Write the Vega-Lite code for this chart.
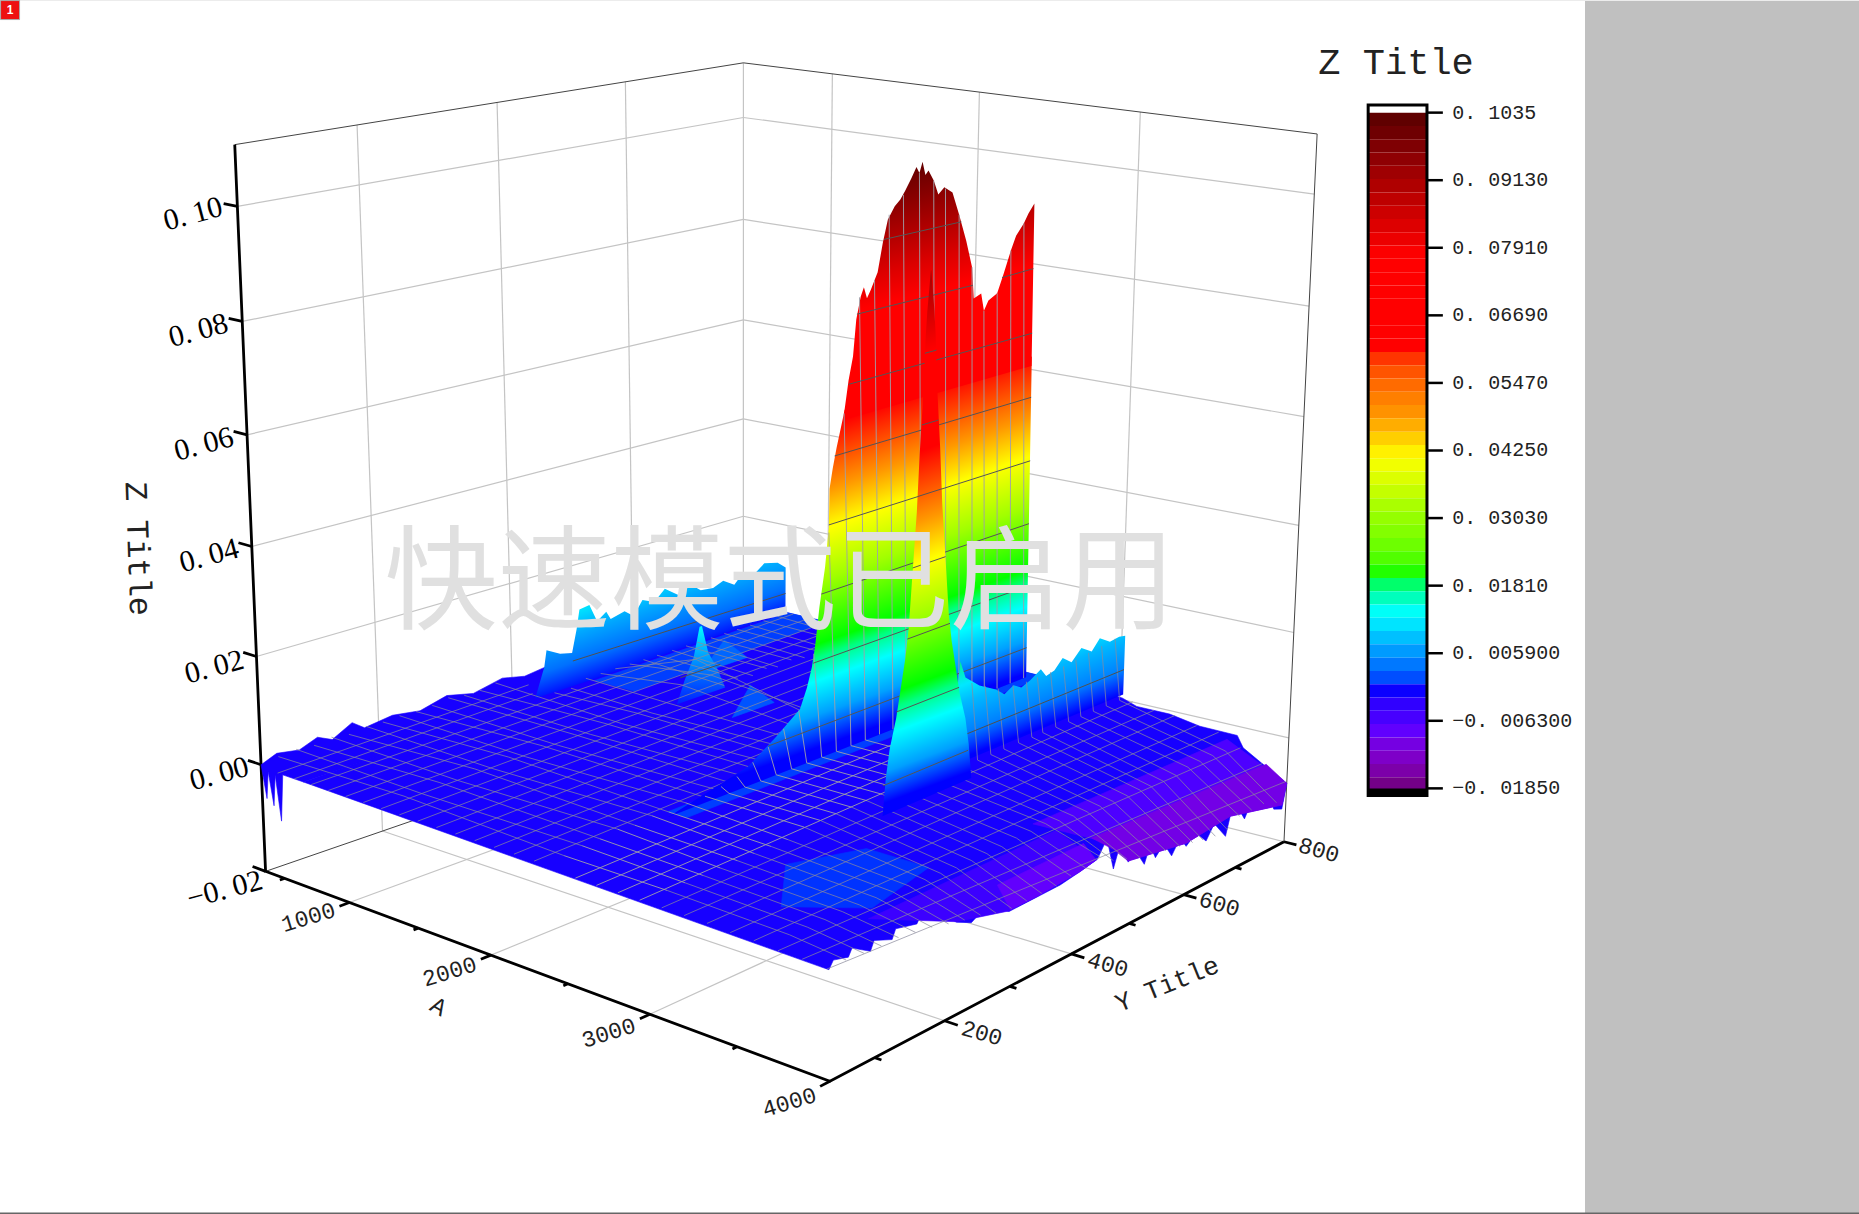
{"$schema":"https://vega.github.io/schema/vega-lite/v6.json","width":1859,"height":1214,"padding":0,"autosize":"none","background":"white","config":{"view":{"stroke":null},"legend":{"disable":true}},
"data":{"values":[
{"p":"P"},{"p":"B","t":"1"},{"p":"K"},{"p":"U","t":"Z Title"},{"p":"V","t":"快速模式已启用"},
{"p":"ga0","X":350,"Y":39,"Z":0},{"p":"ga0","X":350,"Y":800,"Z":0},{"p":"ga2","X":350,"Y":39,"Z":0.02},{"p":"ga2","X":350,"Y":800,"Z":0.02},{"p":"ga4","X":350,"Y":39,"Z":0.04},{"p":"ga4","X":350,"Y":800,"Z":0.04},{"p":"ga6","X":350,"Y":39,"Z":0.06},{"p":"ga6","X":350,"Y":800,"Z":0.06},{"p":"ga8","X":350,"Y":39,"Z":0.08},{"p":"ga8","X":350,"Y":800,"Z":0.08},{"p":"ga10","X":350,"Y":39,"Z":0.1},{"p":"ga10","X":350,"Y":800,"Z":0.1},
{"p":"gb0","X":350,"Y":800,"Z":0},{"p":"gb0","X":4000,"Y":800,"Z":0},{"p":"gb2","X":350,"Y":800,"Z":0.02},{"p":"gb2","X":4000,"Y":800,"Z":0.02},{"p":"gb4","X":350,"Y":800,"Z":0.04},{"p":"gb4","X":4000,"Y":800,"Z":0.04},{"p":"gb6","X":350,"Y":800,"Z":0.06},{"p":"gb6","X":4000,"Y":800,"Z":0.06},{"p":"gb8","X":350,"Y":800,"Z":0.08},{"p":"gb8","X":4000,"Y":800,"Z":0.08},{"p":"gb10","X":350,"Y":800,"Z":0.1},{"p":"gb10","X":4000,"Y":800,"Z":0.1},
{"p":"gc2","X":350,"Y":200,"Z":-0.02},{"p":"gc2","X":350,"Y":200,"Z":0.1106},{"p":"gc4","X":350,"Y":400,"Z":-0.02},{"p":"gc4","X":350,"Y":400,"Z":0.1106},{"p":"gc6","X":350,"Y":600,"Z":-0.02},{"p":"gc6","X":350,"Y":600,"Z":0.1106},
{"p":"gd1","X":1000,"Y":800,"Z":-0.02},{"p":"gd1","X":1000,"Y":800,"Z":0.1106},{"p":"gd2","X":2000,"Y":800,"Z":-0.02},{"p":"gd2","X":2000,"Y":800,"Z":0.1106},{"p":"gd3","X":3000,"Y":800,"Z":-0.02},{"p":"gd3","X":3000,"Y":800,"Z":0.1106},
{"p":"ge1","X":1000,"Y":39,"Z":-0.02},{"p":"ge1","X":1000,"Y":800,"Z":-0.02},{"p":"ge2","X":2000,"Y":39,"Z":-0.02},{"p":"ge2","X":2000,"Y":800,"Z":-0.02},{"p":"ge3","X":3000,"Y":39,"Z":-0.02},{"p":"ge3","X":3000,"Y":800,"Z":-0.02},
{"p":"gf2","X":350,"Y":200,"Z":-0.02},{"p":"gf2","X":4000,"Y":200,"Z":-0.02},{"p":"gf4","X":350,"Y":400,"Z":-0.02},{"p":"gf4","X":4000,"Y":400,"Z":-0.02},{"p":"gf6","X":350,"Y":600,"Z":-0.02},{"p":"gf6","X":4000,"Y":600,"Z":-0.02},
{"p":"gg","X":350,"Y":800,"Z":-0.02},{"p":"gg","X":350,"Y":800,"Z":0.1106},{"p":"gh","X":350,"Y":800,"Z":-0.02},{"p":"gh","X":4000,"Y":800,"Z":-0.02},
{"p":"ka","X":350,"Y":39,"Z":0.1106},{"p":"ka","X":350,"Y":800,"Z":0.1106},{"p":"ka","X":4000,"Y":800,"Z":0.1106},{"p":"ka","X":4000,"Y":800,"Z":-0.02},{"p":"kb","X":350,"Y":39,"Z":-0.02},{"p":"kb","X":350,"Y":800,"Z":-0.02},
{"p":"ta","X":350,"Y":39,"Z":0.1106},{"p":"ta","X":350,"Y":39,"Z":-0.02},{"p":"ta","X":4000,"Y":39,"Z":-0.02},{"p":"ta","X":4000,"Y":800,"Z":-0.02},
{"p":"tz0","X":350,"Y":39,"Z":-0.02},{"p":"tz0","X":245,"Y":39,"Z":-0.02},{"p":"tz1","X":350,"Y":39,"Z":0},{"p":"tz1","X":245,"Y":39,"Z":0},{"p":"tz2","X":350,"Y":39,"Z":0.02},{"p":"tz2","X":245,"Y":39,"Z":0.02},{"p":"tz3","X":350,"Y":39,"Z":0.04},{"p":"tz3","X":245,"Y":39,"Z":0.04},{"p":"tz4","X":350,"Y":39,"Z":0.06},{"p":"tz4","X":245,"Y":39,"Z":0.06},{"p":"tz5","X":350,"Y":39,"Z":0.08},{"p":"tz5","X":245,"Y":39,"Z":0.08},{"p":"tz6","X":350,"Y":39,"Z":0.1},{"p":"tz6","X":245,"Y":39,"Z":0.1},
{"p":"tx1","X":1000,"Y":39,"Z":-0.02},{"p":"tx1","X":1000,"Y":26,"Z":-0.02},{"p":"tx2","X":2000,"Y":39,"Z":-0.02},{"p":"tx2","X":2000,"Y":26,"Z":-0.02},{"p":"tx3","X":3000,"Y":39,"Z":-0.02},{"p":"tx3","X":3000,"Y":26,"Z":-0.02},{"p":"tx4","X":4000,"Y":39,"Z":-0.02},{"p":"tx4","X":4000,"Y":26,"Z":-0.02},{"p":"tx5","X":500,"Y":39,"Z":-0.02},{"p":"tx5","X":500,"Y":33,"Z":-0.02},{"p":"tx6","X":1500,"Y":39,"Z":-0.02},{"p":"tx6","X":1500,"Y":33,"Z":-0.02},{"p":"tx7","X":2500,"Y":39,"Z":-0.02},{"p":"tx7","X":2500,"Y":33,"Z":-0.02},{"p":"tx8","X":3500,"Y":39,"Z":-0.02},{"p":"tx8","X":3500,"Y":33,"Z":-0.02},
{"p":"ty1","X":4000,"Y":200,"Z":-0.02},{"p":"ty1","X":4070,"Y":200,"Z":-0.02},{"p":"ty2","X":4000,"Y":400,"Z":-0.02},{"p":"ty2","X":4070,"Y":400,"Z":-0.02},{"p":"ty3","X":4000,"Y":600,"Z":-0.02},{"p":"ty3","X":4070,"Y":600,"Z":-0.02},{"p":"ty4","X":4000,"Y":800,"Z":-0.02},{"p":"ty4","X":4070,"Y":800,"Z":-0.02},{"p":"ty5","X":4000,"Y":100,"Z":-0.02},{"p":"ty5","X":4035,"Y":100,"Z":-0.02},{"p":"ty6","X":4000,"Y":300,"Z":-0.02},{"p":"ty6","X":4035,"Y":300,"Z":-0.02},{"p":"ty7","X":4000,"Y":500,"Z":-0.02},{"p":"ty7","X":4035,"Y":500,"Z":-0.02},{"p":"ty8","X":4000,"Y":700,"Z":-0.02},{"p":"ty8","X":4035,"Y":700,"Z":-0.02},
{"p":"z","X":-30,"Y":39,"Z":0.1,"t":"0. 10"},{"p":"z","X":-30,"Y":39,"Z":0.0795,"t":"0. 08"},{"p":"z","X":-30,"Y":39,"Z":0.0592,"t":"0. 06"},{"p":"z","X":-30,"Y":39,"Z":0.039,"t":"0. 04"},{"p":"z","X":-30,"Y":39,"Z":0.0185,"t":"0. 02"},{"p":"z","X":-30,"Y":39,"Z":-0.0015,"t":"0. 00"},{"p":"z","X":-30,"Y":39,"Z":-0.0235,"t":"−0. 02"},
{"p":"x","X":1000,"Y":-14,"Z":-0.02,"t":"1000"},{"p":"x","X":2000,"Y":-14,"Z":-0.02,"t":"2000"},{"p":"x","X":3000,"Y":-14,"Z":-0.02,"t":"3000"},{"p":"x","X":4000,"Y":-14,"Z":-0.02,"t":"4000"},
{"p":"y","X":4195,"Y":200,"Z":-0.02,"t":"200"},{"p":"y","X":4195,"Y":400,"Z":-0.02,"t":"400"},{"p":"y","X":4195,"Y":600,"Z":-0.02,"t":"600"},{"p":"y","X":4195,"Y":800,"Z":-0.02,"t":"800"},
{"p":"uz","X":-600,"Y":39,"Z":0.0335,"t":"Z Title"},{"p":"ux","X":2248,"Y":-75,"Z":-0.02,"t":"A"},{"p":"uy","X":4511,"Y":397,"Z":-0.02,"t":"Y Title"},
{"p":"a","X":350,"Y":39,"Z":0,"c":-0.0002},{"p":"a","X":387,"Y":39,"Z":-0.006,"c":-0.0002},{"p":"a","X":405,"Y":39,"Z":-0.0008,"c":-0.0002},{"p":"a","X":441,"Y":39,"Z":-0.0069,"c":-0.0002},{"p":"a","X":460,"Y":39,"Z":-0.001,"c":-0.0002},{"p":"a","X":496,"Y":39,"Z":-0.0093,"c":-0.0002},{"p":"a","X":520,"Y":39,"Z":-0.0005,"c":-0.0002},{"p":"a","X":680,"Y":39,"Z":-0.0005,"c":-0.0002},{"p":"a","X":680,"Y":800,"Z":0.001,"c":-0.0002},{"p":"a","X":350,"Y":800,"Z":0.001,"c":-0.0002},{"p":"a","X":350,"Y":451,"Z":0.0015,"c":-0.0002},{"p":"a","X":350,"Y":420,"Z":0.001,"c":-0.0002},{"p":"a","X":350,"Y":385,"Z":0.002,"c":-0.0002},{"p":"a","X":350,"Y":340,"Z":0.0008,"c":-0.0002},{"p":"a","X":350,"Y":300,"Z":0.002,"c":-0.0002},{"p":"a","X":350,"Y":260,"Z":0.0007,"c":-0.0002},{"p":"a","X":350,"Y":220,"Z":0.0015,"c":-0.0002},{"p":"a","X":350,"Y":180,"Z":0.0008,"c":-0.0002},{"p":"a","X":350,"Y":163,"Z":0.0025,"c":-0.0002},{"p":"a","X":350,"Y":135,"Z":0.0005,"c":-0.0002},{"p":"a","X":350,"Y":115,"Z":0.0018,"c":-0.0002},{"p":"a","X":350,"Y":90,"Z":0.0005,"c":-0.0002},{"p":"a","X":350,"Y":60,"Z":0.0012,"c":-0.0002},
{"p":"h","X":680,"Y":370,"Z":0.001},{"p":"h","X":680,"Y":385,"Z":0.0065},{"p":"h","X":680,"Y":389,"Z":0.0096},{"p":"h","X":680,"Y":410,"Z":0.0081},{"p":"h","X":680,"Y":429,"Z":0.0075},{"p":"h","X":680,"Y":437,"Z":0.0119},{"p":"h","X":680,"Y":442,"Z":0.0155},{"p":"h","X":680,"Y":458,"Z":0.0158},{"p":"h","X":680,"Y":470,"Z":0.0122},{"p":"h","X":680,"Y":485,"Z":0.0135},{"p":"h","X":680,"Y":492,"Z":0.0118},{"p":"h","X":680,"Y":515,"Z":0.0125},{"p":"h","X":680,"Y":530,"Z":0.011},{"p":"h","X":680,"Y":545,"Z":0.0136},{"p":"h","X":680,"Y":565,"Z":0.0125},{"p":"h","X":680,"Y":583,"Z":0.0145},{"p":"h","X":680,"Y":605,"Z":0.0125},{"p":"h","X":680,"Y":625,"Z":0.014},{"p":"h","X":680,"Y":645,"Z":0.012},{"p":"h","X":680,"Y":667,"Z":0.0117},{"p":"h","X":680,"Y":685,"Z":0.0125},{"p":"h","X":680,"Y":705,"Z":0.011},{"p":"h","X":680,"Y":720,"Z":0.0128},{"p":"h","X":680,"Y":739,"Z":0.0117},{"p":"h","X":680,"Y":760,"Z":0.0135},{"p":"h","X":680,"Y":785,"Z":0.0128},{"p":"h","X":680,"Y":800,"Z":0.0113},{"p":"h","X":680,"Y":800,"Z":0.001},
{"p":"f","X":680,"Y":800,"Z":0.002,"c":-0.0002},{"p":"f","X":680,"Y":39,"Z":-0.0005,"c":-0.0002},{"p":"f","X":3950,"Y":39,"Z":-0.0017,"c":-0.0002},{"p":"f","X":4000,"Y":39,"Z":-0.0017,"c":-0.0002},{"p":"f","X":4000,"Y":45,"Z":-0.0005,"c":-0.0002},{"p":"f","X":4000,"Y":65,"Z":-0.0012,"c":-0.0002},{"p":"f","X":4000,"Y":70,"Z":0,"c":-0.0002},{"p":"f","X":4000,"Y":95,"Z":-0.002,"c":-0.0002},{"p":"f","X":4000,"Y":100,"Z":-0.0005,"c":-0.0002},{"p":"f","X":4000,"Y":125,"Z":-0.0018,"c":-0.0002},{"p":"f","X":4000,"Y":130,"Z":-0.0003,"c":-0.0002},{"p":"f","X":4000,"Y":160,"Z":-0.0012,"c":-0.0002},{"p":"f","X":4000,"Y":165,"Z":-0.0002,"c":-0.0002},{"p":"f","X":4000,"Y":185,"Z":-0.0018,"c":-0.0002},{"p":"f","X":4000,"Y":190,"Z":-0.001,"c":-0.0002},{"p":"f","X":4000,"Y":218,"Z":-0.0042,"c":-0.0002},{"p":"f","X":4000,"Y":240,"Z":-0.0055,"c":-0.0002},{"p":"f","X":4000,"Y":262,"Z":-0.004,"c":-0.0002},{"p":"f","X":4000,"Y":298,"Z":-0.0068,"c":-0.0002},{"p":"f","X":4000,"Y":343,"Z":-0.0067,"c":-0.0002},{"p":"f","X":4000,"Y":380,"Z":-0.0066,"c":-0.0002},{"p":"f","X":4000,"Y":412,"Z":-0.006,"c":-0.0002},{"p":"f","X":4000,"Y":442,"Z":-0.0053,"c":-0.0002},{"p":"f","X":4000,"Y":458,"Z":-0.0024,"c":-0.0002},{"p":"f","X":4000,"Y":470,"Z":-0.0085,"c":-0.0002},{"p":"f","X":4000,"Y":480,"Z":-0.005,"c":-0.0002},{"p":"f","X":4000,"Y":496,"Z":-0.0086,"c":-0.0002},{"p":"f","X":4000,"Y":510,"Z":-0.0075,"c":-0.0002},{"p":"f","X":4000,"Y":525,"Z":-0.0105,"c":-0.0002},{"p":"f","X":4000,"Y":535,"Z":-0.0075,"c":-0.0002},{"p":"f","X":4000,"Y":545,"Z":-0.0103,"c":-0.0002},{"p":"f","X":4000,"Y":560,"Z":-0.0085,"c":-0.0002},{"p":"f","X":4000,"Y":575,"Z":-0.0115,"c":-0.0002},{"p":"f","X":4000,"Y":590,"Z":-0.009,"c":-0.0002},{"p":"f","X":4000,"Y":602,"Z":-0.0111,"c":-0.0002},{"p":"f","X":4000,"Y":620,"Z":-0.0095,"c":-0.0002},{"p":"f","X":4000,"Y":640,"Z":-0.012,"c":-0.0002},{"p":"f","X":4000,"Y":655,"Z":-0.0095,"c":-0.0002},{"p":"f","X":4000,"Y":678,"Z":-0.013,"c":-0.0002},{"p":"f","X":4000,"Y":686,"Z":-0.0096,"c":-0.0002},{"p":"f","X":4000,"Y":700,"Z":-0.0085,"c":-0.0002},{"p":"f","X":4000,"Y":715,"Z":-0.0115,"c":-0.0002},{"p":"f","X":4000,"Y":730,"Z":-0.0085,"c":-0.0002},{"p":"f","X":4000,"Y":747,"Z":-0.0113,"c":-0.0002},{"p":"f","X":4000,"Y":762,"Z":-0.009,"c":-0.0002},{"p":"f","X":4000,"Y":775,"Z":-0.0125,"c":-0.0002},{"p":"f","X":4000,"Y":792,"Z":-0.0133,"c":-0.0002},{"p":"f","X":4000,"Y":800,"Z":-0.0087,"c":-0.0002},{"p":"f","X":3880,"Y":800,"Z":-0.0065,"c":-0.0002},{"p":"f","X":3745,"Y":800,"Z":-0.0039,"c":-0.0002},{"p":"f","X":3708,"Y":800,"Z":-0.0018,"c":-0.0002},{"p":"f","X":3489,"Y":800,"Z":-0.0017,"c":-0.0002},{"p":"f","X":3307,"Y":800,"Z":-0.0007,"c":-0.0002},{"p":"f","X":3106,"Y":800,"Z":-0.0007,"c":-0.0002},{"p":"f","X":3015,"Y":800,"Z":0.0003,"c":-0.0002},{"p":"f","X":2400,"Y":800,"Z":0.001,"c":-0.0002},
{"p":"o1","X":3650,"Y":440,"Z":-0.002,"c":-0.005},{"p":"o1","X":3650,"Y":800,"Z":-0.003,"c":-0.005},{"p":"o1","X":4000,"Y":800,"Z":-0.0087,"c":-0.005},{"p":"o1","X":4000,"Y":792,"Z":-0.0125,"c":-0.005},{"p":"o1","X":4000,"Y":686,"Z":-0.0096,"c":-0.005},{"p":"o1","X":4000,"Y":602,"Z":-0.0105,"c":-0.005},{"p":"o1","X":4000,"Y":496,"Z":-0.0084,"c":-0.005},{"p":"o1","X":4000,"Y":470,"Z":-0.004,"c":-0.005},
{"p":"o2","X":3880,"Y":470,"Z":-0.004,"c":-0.009},{"p":"o2","X":3880,"Y":800,"Z":-0.006,"c":-0.009},{"p":"o2","X":4000,"Y":800,"Z":-0.0087,"c":-0.009},{"p":"o2","X":4000,"Y":792,"Z":-0.0125,"c":-0.009},{"p":"o2","X":4000,"Y":686,"Z":-0.0096,"c":-0.009},{"p":"o2","X":4000,"Y":602,"Z":-0.0105,"c":-0.009},{"p":"o2","X":4000,"Y":496,"Z":-0.0084,"c":-0.009},{"p":"o2","X":4000,"Y":470,"Z":-0.005,"c":-0.009},
{"p":"o3","X":3780,"Y":150,"Z":-0.002,"c":-0.0035},{"p":"o3","X":3780,"Y":440,"Z":-0.002,"c":-0.0035},{"p":"o3","X":4000,"Y":440,"Z":-0.0053,"c":-0.0035},{"p":"o3","X":4000,"Y":412,"Z":-0.0059,"c":-0.0035},{"p":"o3","X":4000,"Y":343,"Z":-0.0066,"c":-0.0035},{"p":"o3","X":4000,"Y":298,"Z":-0.0067,"c":-0.0035},{"p":"o3","X":4000,"Y":218,"Z":-0.0041,"c":-0.0035},
{"p":"o4","X":3930,"Y":300,"Z":-0.003,"c":-0.007},{"p":"o4","X":3930,"Y":440,"Z":-0.003,"c":-0.007},{"p":"o4","X":4000,"Y":440,"Z":-0.0053,"c":-0.007},{"p":"o4","X":4000,"Y":412,"Z":-0.006,"c":-0.007},{"p":"o4","X":4000,"Y":343,"Z":-0.0066,"c":-0.007},{"p":"o4","X":4000,"Y":300,"Z":-0.0066,"c":-0.007},
{"p":"o5","X":3200,"Y":180,"Z":0,"c":0.0016},{"p":"o5","X":3500,"Y":100,"Z":0,"c":0.0016},{"p":"o5","X":3800,"Y":150,"Z":0,"c":0.0016},{"p":"o5","X":3700,"Y":260,"Z":0,"c":0.0016},{"p":"o5","X":3350,"Y":260,"Z":0,"c":0.0016},
{"p":"o6","X":2400,"Y":200,"Z":0.001,"c":0.002},{"p":"o6","X":2400,"Y":800,"Z":0.001,"c":0.002},{"p":"o6","X":2520,"Y":800,"Z":0.001,"c":0.002},{"p":"o6","X":2520,"Y":200,"Z":0.001,"c":0.002},
{"p":"o7","X":700,"Y":460,"Z":0.001,"c":0.002},{"p":"o7","X":700,"Y":800,"Z":0.002,"c":0.002},{"p":"o7","X":1000,"Y":800,"Z":0.002,"c":0.002},{"p":"o7","X":1000,"Y":460,"Z":0.001,"c":0.002},
{"p":"o8","X":1050,"Y":560,"Z":0.001,"c":0.004},{"p":"o8","X":1050,"Y":600,"Z":0.006,"c":0.004},{"p":"o8","X":1050,"Y":640,"Z":0.001,"c":0.004},
{"p":"o9","X":1700,"Y":460,"Z":0.001,"c":0.003},{"p":"o9","X":1700,"Y":490,"Z":0.006,"c":0.003},{"p":"o9","X":1700,"Y":530,"Z":0.001,"c":0.003},
{"p":"q","X":1328,"Y":456,"Z":0.001},{"p":"q","X":1328,"Y":469,"Z":0.0052},{"p":"q","X":1328,"Y":484,"Z":0.009},{"p":"q","X":1328,"Y":494,"Z":0.0145},{"p":"q","X":1328,"Y":498,"Z":0.0145},{"p":"q","X":1328,"Y":508,"Z":0.009},{"p":"q","X":1328,"Y":523,"Z":0.0052},{"p":"q","X":1328,"Y":536,"Z":0.001},
{"p":"c1","X":680,"Y":430,"Z":0.0059},{"p":"c1","X":680,"Y":800,"Z":0.0059},{"p":"c2","X":1328,"Y":462,"Z":0.0059},{"p":"c2","X":1328,"Y":528,"Z":0.0059},
{"p":"m62","X":350,"Y":62,"Z":0.0005},{"p":"m62","X":1300,"Y":62,"Z":0.001},{"p":"m62","X":2380,"Y":62,"Z":0},{"p":"m86","X":350,"Y":86,"Z":0.0008},{"p":"m86","X":1300,"Y":86,"Z":0.0003},{"p":"m86","X":2380,"Y":86,"Z":0.0005},{"p":"m110","X":350,"Y":110,"Z":0.0005},{"p":"m110","X":1300,"Y":110,"Z":0.0012},{"p":"m110","X":2380,"Y":110,"Z":0.0005},{"p":"m134","X":350,"Y":134,"Z":0.001},{"p":"m134","X":1300,"Y":134,"Z":0.0005},{"p":"m134","X":2380,"Y":134,"Z":0.001},{"p":"m158","X":350,"Y":158,"Z":0.0005},{"p":"m158","X":1300,"Y":158,"Z":0.0015},{"p":"m158","X":2380,"Y":158,"Z":0.0005},{"p":"m182","X":350,"Y":182,"Z":0.001},{"p":"m182","X":1300,"Y":182,"Z":0.0005},{"p":"m182","X":2380,"Y":182,"Z":0.001},{"p":"m206","X":350,"Y":206,"Z":0.0008},{"p":"m206","X":1300,"Y":206,"Z":0.0015},{"p":"m206","X":2380,"Y":206,"Z":0.0005},{"p":"m230","X":350,"Y":230,"Z":0.001},{"p":"m230","X":1300,"Y":230,"Z":0.0005},{"p":"m230","X":2380,"Y":230,"Z":0.001},{"p":"m254","X":350,"Y":254,"Z":0.0008},{"p":"m254","X":1300,"Y":254,"Z":0.0015},{"p":"m254","X":2380,"Y":254,"Z":0.001},{"p":"m278","X":350,"Y":278,"Z":0.001},{"p":"m278","X":1300,"Y":278,"Z":0.0005},{"p":"m278","X":2380,"Y":278,"Z":0.001},{"p":"m302","X":350,"Y":302,"Z":0.0015},{"p":"m302","X":1300,"Y":302,"Z":0.0015},{"p":"m302","X":2380,"Y":302,"Z":0.001},{"p":"m326","X":350,"Y":326,"Z":0.001},{"p":"m326","X":1300,"Y":326,"Z":0.0005},{"p":"m326","X":2380,"Y":326,"Z":0.001},{"p":"m350","X":350,"Y":350,"Z":0.001},{"p":"m350","X":1300,"Y":350,"Z":0.0015},{"p":"m350","X":2380,"Y":350,"Z":0.001},{"p":"m374","X":350,"Y":374,"Z":0.0015},{"p":"m374","X":1300,"Y":374,"Z":0.0005},{"p":"m374","X":2380,"Y":374,"Z":0.001},{"p":"m398","X":690,"Y":398,"Z":0.001},{"p":"m398","X":1300,"Y":398,"Z":0.0015},{"p":"m398","X":2380,"Y":398,"Z":0.001},
{"p":"m422","X":700,"Y":422,"Z":0.001},{"p":"m422","X":1300,"Y":422,"Z":0.0005},{"p":"m422","X":2380,"Y":422,"Z":0.001},{"p":"m446","X":700,"Y":446,"Z":0.002},{"p":"m446","X":1300,"Y":446,"Z":0.0015},{"p":"m446","X":2380,"Y":446,"Z":0.001},{"p":"m470","X":700,"Y":470,"Z":0.002},{"p":"m470","X":1300,"Y":470,"Z":0.004},{"p":"m470","X":2380,"Y":470,"Z":0.001},{"p":"m494","X":700,"Y":494,"Z":0.002},{"p":"m494","X":1300,"Y":494,"Z":0.008},{"p":"m494","X":2380,"Y":494,"Z":0.001},{"p":"m518","X":700,"Y":518,"Z":0.002},{"p":"m518","X":1300,"Y":518,"Z":0.004},{"p":"m518","X":2380,"Y":518,"Z":0.001},{"p":"m541","X":700,"Y":541,"Z":0.002},{"p":"m541","X":1300,"Y":541,"Z":0.001},{"p":"m564","X":700,"Y":564,"Z":0.002},{"p":"m564","X":1300,"Y":564,"Z":0.0015},{"p":"m590","X":700,"Y":590,"Z":0.002},{"p":"m590","X":1300,"Y":590,"Z":0.001},{"p":"m614","X":700,"Y":614,"Z":0.002},{"p":"m614","X":1300,"Y":614,"Z":0.0015},{"p":"m634","X":700,"Y":634,"Z":0.002},{"p":"m634","X":1300,"Y":634,"Z":0.001},{"p":"m658","X":700,"Y":658,"Z":0.002},{"p":"m658","X":1300,"Y":658,"Z":0.0015},{"p":"m682","X":700,"Y":682,"Z":0.002},{"p":"m682","X":1300,"Y":682,"Z":0.001},{"p":"m705","X":700,"Y":705,"Z":0.002},{"p":"m705","X":1300,"Y":705,"Z":0.0015},{"p":"m729","X":700,"Y":729,"Z":0.002},{"p":"m729","X":1300,"Y":729,"Z":0.001},{"p":"m754","X":700,"Y":754,"Z":0.002},{"p":"m754","X":1300,"Y":754,"Z":0.0015},{"p":"m780","X":700,"Y":780,"Z":0.002},{"p":"m780","X":1300,"Y":780,"Z":0.001},
{"p":"mx480","X":480,"Y":39,"Z":-0.0005},{"p":"mx480","X":480,"Y":400,"Z":0.001},{"p":"mx610","X":610,"Y":39,"Z":-0.0005},{"p":"mx610","X":610,"Y":380,"Z":0.001},{"p":"mx740","X":740,"Y":39,"Z":-0.0005},{"p":"mx740","X":740,"Y":800,"Z":0.002},{"p":"mx870","X":870,"Y":39,"Z":-0.0005},{"p":"mx870","X":870,"Y":800,"Z":0.002},{"p":"mx1000","X":1000,"Y":39,"Z":-0.0005},{"p":"mx1000","X":1000,"Y":800,"Z":0.002},{"p":"mx1130","X":1130,"Y":39,"Z":-0.0005},{"p":"mx1130","X":1130,"Y":800,"Z":0.002},{"p":"mx1260","X":1260,"Y":39,"Z":-0.0005},{"p":"mx1260","X":1260,"Y":800,"Z":0.002},{"p":"mx1390","X":1390,"Y":39,"Z":-0.0005},{"p":"mx1390","X":1390,"Y":800,"Z":0.002},{"p":"mx1520","X":1520,"Y":39,"Z":-0.0005},{"p":"mx1520","X":1520,"Y":800,"Z":0.002},{"p":"mx1650","X":1650,"Y":39,"Z":-0.0005},{"p":"mx1650","X":1650,"Y":800,"Z":0.002},{"p":"mx1780","X":1780,"Y":39,"Z":-0.0005},{"p":"mx1780","X":1780,"Y":800,"Z":0.002},{"p":"mx1910","X":1910,"Y":39,"Z":-0.0005},{"p":"mx1910","X":1910,"Y":800,"Z":0.002},{"p":"mx2040","X":2040,"Y":39,"Z":-0.0005},{"p":"mx2040","X":2040,"Y":800,"Z":0.002},{"p":"mx2170","X":2170,"Y":39,"Z":-0.0005},{"p":"mx2170","X":2170,"Y":800,"Z":0.002},{"p":"mx2300","X":2300,"Y":39,"Z":-0.0005},{"p":"mx2300","X":2300,"Y":800,"Z":0.002},
{"p":"w","X":2400,"Y":200,"Z":0},{"p":"w","X":2400,"Y":318,"Z":0.0035},{"p":"w","X":2400,"Y":362,"Z":0.007},{"p":"w","X":2400,"Y":400,"Z":0.0105},{"p":"w","X":2400,"Y":411,"Z":0.014},{"p":"w","X":2400,"Y":419,"Z":0.0175},{"p":"w","X":2400,"Y":424,"Z":0.021},{"p":"w","X":2400,"Y":431,"Z":0.028},{"p":"w","X":2400,"Y":440,"Z":0.035},{"p":"w","X":2400,"Y":446,"Z":0.042},{"p":"w","X":2400,"Y":447,"Z":0.049},{"p":"w","X":2400,"Y":452,"Z":0.0525},{"p":"w","X":2400,"Y":458,"Z":0.056},{"p":"w","X":2400,"Y":465,"Z":0.0595},{"p":"w","X":2400,"Y":471,"Z":0.0625},{"p":"w","X":2380,"Y":800,"Z":0.0625},{"p":"w","X":2400,"Y":800,"Z":0},
{"p":"W","X":2400,"Y":470,"Z":0.0607},{"p":"W","X":2400,"Y":470,"Z":0.0619},{"p":"W","X":2400,"Y":477,"Z":0.0676},{"p":"W","X":2400,"Y":484,"Z":0.0717},{"p":"W","X":2400,"Y":489,"Z":0.0782},{"p":"W","X":2400,"Y":496,"Z":0.0821},{"p":"W","X":2400,"Y":501,"Z":0.0836},{"p":"W","X":2400,"Y":506,"Z":0.0815},{"p":"W","X":2400,"Y":512,"Z":0.0828},{"p":"W","X":2400,"Y":518,"Z":0.0844},{"p":"W","X":2400,"Y":523,"Z":0.0857},{"p":"W","X":2400,"Y":531,"Z":0.0907},{"p":"W","X":2400,"Y":539,"Z":0.0947},{"p":"W","X":2400,"Y":550,"Z":0.0968},{"p":"W","X":2400,"Y":559,"Z":0.0978},{"p":"W","X":2400,"Y":567,"Z":0.0992},{"p":"W","X":2400,"Y":577,"Z":0.1012},{"p":"W","X":2400,"Y":585,"Z":0.103},{"p":"W","X":2400,"Y":590,"Z":0.1018},{"p":"W","X":2400,"Y":595,"Z":0.1037},{"p":"W","X":2400,"Y":600,"Z":0.1012},{"p":"W","X":2400,"Y":605,"Z":0.1019},{"p":"W","X":2400,"Y":614,"Z":0.0999},{"p":"W","X":2400,"Y":622,"Z":0.0972},{"p":"W","X":2400,"Y":632,"Z":0.0983},{"p":"W","X":2400,"Y":646,"Z":0.097},{"p":"W","X":2400,"Y":658,"Z":0.0927},{"p":"W","X":2400,"Y":671,"Z":0.0876},{"p":"W","X":2400,"Y":682,"Z":0.0825},{"p":"W","X":2400,"Y":686,"Z":0.0766},{"p":"W","X":2400,"Y":699,"Z":0.0772},{"p":"W","X":2398,"Y":705,"Z":0.0738},{"p":"W","X":2397,"Y":713,"Z":0.0755},{"p":"W","X":2395,"Y":729,"Z":0.0764},{"p":"W","X":2392,"Y":741,"Z":0.0798},{"p":"W","X":2388,"Y":754,"Z":0.0837},{"p":"W","X":2384,"Y":764,"Z":0.0862},{"p":"W","X":2376,"Y":780,"Z":0.0881},{"p":"W","X":2372,"Y":789,"Z":0.0897},{"p":"W","X":2370,"Y":800,"Z":0.0913},{"p":"W","X":2380,"Y":800,"Z":0.0607},
{"p":"n254","X":2400,"Y":254,"Z":0.0012},{"p":"n254","X":3010,"Y":254,"Z":0.001},{"p":"n62","X":2380,"Y":62,"Z":0},{"p":"n62","X":3010,"Y":62,"Z":0},{"p":"n86","X":2380,"Y":86,"Z":0.0005},{"p":"n86","X":3010,"Y":86,"Z":0},{"p":"n110","X":2380,"Y":110,"Z":0.0005},{"p":"n110","X":3010,"Y":110,"Z":0},{"p":"n134","X":2380,"Y":134,"Z":0.001},{"p":"n134","X":3010,"Y":134,"Z":0},{"p":"n158","X":2380,"Y":158,"Z":0.0005},{"p":"n158","X":3010,"Y":158,"Z":0},{"p":"n182","X":2380,"Y":182,"Z":0.001},{"p":"n182","X":3010,"Y":182,"Z":0},{"p":"n206","X":2380,"Y":206,"Z":0.0005},{"p":"n206","X":3010,"Y":206,"Z":0},{"p":"n230","X":2380,"Y":230,"Z":0.001},{"p":"n230","X":3010,"Y":230,"Z":0},
{"p":"n278","X":2400,"Y":278,"Z":0.0018},{"p":"n278","X":2450,"Y":278,"Z":0.001},{"p":"n278","X":3010,"Y":278,"Z":0.001},{"p":"n302","X":2400,"Y":302,"Z":0.0025},{"p":"n302","X":2450,"Y":302,"Z":0.001},{"p":"n302","X":3010,"Y":302,"Z":0.001},{"p":"n326","X":2400,"Y":326,"Z":0.004},{"p":"n326","X":2450,"Y":326,"Z":0.001},{"p":"n326","X":3010,"Y":326,"Z":0.001},{"p":"n350","X":2400,"Y":350,"Z":0.0057},{"p":"n350","X":2450,"Y":350,"Z":0.001},{"p":"n350","X":3010,"Y":350,"Z":0.001},{"p":"n374","X":2400,"Y":374,"Z":0.008},{"p":"n374","X":2450,"Y":374,"Z":0.001},{"p":"n374","X":3010,"Y":374,"Z":0.001},{"p":"n398","X":2400,"Y":398,"Z":0.0103},{"p":"n398","X":2450,"Y":398,"Z":0.001},{"p":"n398","X":3010,"Y":398,"Z":0.001},{"p":"n422","X":2400,"Y":422,"Z":0.0198},{"p":"n422","X":2450,"Y":422,"Z":0.001},{"p":"n422","X":3010,"Y":422,"Z":0.001},{"p":"n446","X":2400,"Y":446,"Z":0.0411},{"p":"n446","X":2450,"Y":446,"Z":0.001},{"p":"n446","X":3010,"Y":446,"Z":0.001},{"p":"n470","X":2400,"Y":470,"Z":0.0619},{"p":"n470","X":2450,"Y":470,"Z":0.001},{"p":"n470","X":3010,"Y":470,"Z":0.001},{"p":"n494","X":2400,"Y":494,"Z":0.082},{"p":"n494","X":2450,"Y":494,"Z":0.001},{"p":"n494","X":3010,"Y":494,"Z":0.001},{"p":"n518","X":2400,"Y":518,"Z":0.0844},{"p":"n518","X":2450,"Y":518,"Z":0.001},{"p":"n541","X":2400,"Y":541,"Z":0.0955},{"p":"n541","X":2450,"Y":541,"Z":0.001},{"p":"n564","X":2400,"Y":564,"Z":0.0985},{"p":"n564","X":2450,"Y":564,"Z":0.001},{"p":"n590","X":2400,"Y":590,"Z":0.1018},{"p":"n590","X":2450,"Y":590,"Z":0.001},{"p":"n614","X":2400,"Y":614,"Z":0.0999},{"p":"n614","X":2450,"Y":614,"Z":0.001},{"p":"n634","X":2400,"Y":634,"Z":0.098},{"p":"n634","X":2450,"Y":634,"Z":0.001},{"p":"n658","X":2400,"Y":658,"Z":0.0927},{"p":"n658","X":2450,"Y":658,"Z":0.001},{"p":"n682","X":2400,"Y":682,"Z":0.0825},{"p":"n682","X":2450,"Y":682,"Z":0.001},{"p":"n705","X":2398,"Y":705,"Z":0.0738},{"p":"n705","X":2450,"Y":705,"Z":0.001},{"p":"n729","X":2395,"Y":729,"Z":0.0764},{"p":"n729","X":2450,"Y":729,"Z":0.001},{"p":"n754","X":2388,"Y":754,"Z":0.0837},{"p":"n754","X":2450,"Y":754,"Z":0.001},{"p":"n780","X":2376,"Y":780,"Z":0.0881},{"p":"n780","X":2450,"Y":780,"Z":0.001},
{"p":"nx2560","X":2560,"Y":39,"Z":-0.001},{"p":"nx2560","X":2560,"Y":800,"Z":0.001},{"p":"nx2690","X":2690,"Y":39,"Z":-0.001},{"p":"nx2690","X":2690,"Y":800,"Z":0.001},{"p":"nx2820","X":2820,"Y":39,"Z":-0.001},{"p":"nx2820","X":2820,"Y":800,"Z":0.001},{"p":"nx2950","X":2950,"Y":39,"Z":-0.001},{"p":"nx2950","X":2950,"Y":800,"Z":0.001},
{"p":"e1","X":2400,"Y":350,"Z":0.0059},{"p":"e1","X":2398,"Y":800,"Z":0.0059},{"p":"e2","X":2400,"Y":421,"Z":0.0181},{"p":"e2","X":2395,"Y":800,"Z":0.0181},{"p":"e3","X":2400,"Y":434,"Z":0.0303},{"p":"e3","X":2391,"Y":800,"Z":0.0303},{"p":"e4","X":2400,"Y":446,"Z":0.0425},{"p":"e4","X":2388,"Y":800,"Z":0.0425},{"p":"e5","X":2400,"Y":455,"Z":0.0547},{"p":"e5","X":2383,"Y":800,"Z":0.0547},{"p":"e6","X":2400,"Y":477,"Z":0.0669},{"p":"e6","X":2378,"Y":800,"Z":0.0669},{"p":"e7","X":2400,"Y":490,"Z":0.0791},{"p":"e7","X":2400,"Y":684,"Z":0.0791},{"p":"e8","X":2392,"Y":738,"Z":0.0791},{"p":"e8","X":2375,"Y":800,"Z":0.0791},{"p":"e9","X":2400,"Y":533,"Z":0.0913},{"p":"e9","X":2400,"Y":662,"Z":0.0913},
{"p":"r","X":3020,"Y":480,"Z":0.001},{"p":"r","X":3020,"Y":498,"Z":0.0198},{"p":"r","X":3020,"Y":507,"Z":0.0165},{"p":"r","X":3020,"Y":531,"Z":0.014},{"p":"r","X":3020,"Y":560,"Z":0.012},{"p":"r","X":3020,"Y":575,"Z":0.0105},{"p":"r","X":3020,"Y":591,"Z":0.0115},{"p":"r","X":3020,"Y":605,"Z":0.0105},{"p":"r","X":3020,"Y":621,"Z":0.0112},{"p":"r","X":3020,"Y":640,"Z":0.0125},{"p":"r","X":3020,"Y":650,"Z":0.0108},{"p":"r","X":3020,"Y":665,"Z":0.0112},{"p":"r","X":3020,"Y":680,"Z":0.013},{"p":"r","X":3020,"Y":697,"Z":0.0115},{"p":"r","X":3020,"Y":715,"Z":0.0135},{"p":"r","X":3020,"Y":735,"Z":0.012},{"p":"r","X":3020,"Y":750,"Z":0.014},{"p":"r","X":3020,"Y":770,"Z":0.0125},{"p":"r","X":3020,"Y":788,"Z":0.0128},{"p":"r","X":3020,"Y":800,"Z":0.0125},{"p":"r","X":3020,"Y":800,"Z":0.001},
{"p":"D1","X":3020,"Y":500,"Z":0.0059},{"p":"D1","X":3020,"Y":800,"Z":0.0059},
{"p":"M62","X":3010,"Y":62,"Z":0},{"p":"M62","X":3700,"Y":62,"Z":-0.0005},{"p":"M62","X":4000,"Y":62,"Z":-0.0015},{"p":"M86","X":3010,"Y":86,"Z":0},{"p":"M86","X":3700,"Y":86,"Z":-0.0006},{"p":"M86","X":4000,"Y":86,"Z":-0.0018},{"p":"M110","X":3010,"Y":110,"Z":0},{"p":"M110","X":3700,"Y":110,"Z":-0.0007},{"p":"M110","X":4000,"Y":110,"Z":-0.002},{"p":"M134","X":3010,"Y":134,"Z":0},{"p":"M134","X":3700,"Y":134,"Z":-0.0007},{"p":"M134","X":4000,"Y":134,"Z":-0.002},{"p":"M158","X":3010,"Y":158,"Z":0},{"p":"M158","X":3700,"Y":158,"Z":-0.0009},{"p":"M158","X":4000,"Y":158,"Z":-0.0025},{"p":"M182","X":3010,"Y":182,"Z":0},{"p":"M182","X":3700,"Y":182,"Z":-0.001},{"p":"M182","X":4000,"Y":182,"Z":-0.003},{"p":"M206","X":3010,"Y":206,"Z":0},{"p":"M206","X":3700,"Y":206,"Z":-0.0013},{"p":"M206","X":4000,"Y":206,"Z":-0.0038},{"p":"M230","X":3010,"Y":230,"Z":0},{"p":"M230","X":3700,"Y":230,"Z":-0.0016},{"p":"M230","X":4000,"Y":230,"Z":-0.0045},{"p":"M254","X":3010,"Y":254,"Z":0.001},{"p":"M254","X":3700,"Y":254,"Z":-0.0018},{"p":"M254","X":4000,"Y":254,"Z":-0.005},{"p":"M278","X":3010,"Y":278,"Z":0.001},{"p":"M278","X":3700,"Y":278,"Z":-0.002},{"p":"M278","X":4000,"Y":278,"Z":-0.006},{"p":"M302","X":3010,"Y":302,"Z":0.001},{"p":"M302","X":3700,"Y":302,"Z":-0.0023},{"p":"M302","X":4000,"Y":302,"Z":-0.0065},{"p":"M326","X":3010,"Y":326,"Z":0.001},{"p":"M326","X":3700,"Y":326,"Z":-0.0023},{"p":"M326","X":4000,"Y":326,"Z":-0.0065},{"p":"M350","X":3010,"Y":350,"Z":0.001},{"p":"M350","X":3700,"Y":350,"Z":-0.0023},{"p":"M350","X":4000,"Y":350,"Z":-0.0065},{"p":"M374","X":3010,"Y":374,"Z":0.001},{"p":"M374","X":3700,"Y":374,"Z":-0.0023},{"p":"M374","X":4000,"Y":374,"Z":-0.0065},{"p":"M398","X":3010,"Y":398,"Z":0.001},{"p":"M398","X":3700,"Y":398,"Z":-0.002},{"p":"M398","X":4000,"Y":398,"Z":-0.006},{"p":"M422","X":3010,"Y":422,"Z":0.001},{"p":"M422","X":3700,"Y":422,"Z":-0.002},{"p":"M422","X":4000,"Y":422,"Z":-0.0058},{"p":"M446","X":3010,"Y":446,"Z":0.001},{"p":"M446","X":3700,"Y":446,"Z":-0.0018},{"p":"M446","X":4000,"Y":446,"Z":-0.005},{"p":"M470","X":3010,"Y":470,"Z":0.001},{"p":"M470","X":3700,"Y":470,"Z":-0.0025},{"p":"M470","X":4000,"Y":470,"Z":-0.007},{"p":"M494","X":3010,"Y":494,"Z":0.001},{"p":"M494","X":3700,"Y":494,"Z":-0.0028},{"p":"M494","X":4000,"Y":494,"Z":-0.008},
{"p":"M518","X":3020,"Y":518,"Z":0.015},{"p":"M518","X":3060,"Y":518,"Z":0.001},{"p":"M518","X":3700,"Y":518,"Z":-0.0032},{"p":"M518","X":4000,"Y":518,"Z":-0.009},{"p":"M541","X":3020,"Y":541,"Z":0.0135},{"p":"M541","X":3060,"Y":541,"Z":0.001},{"p":"M541","X":3700,"Y":541,"Z":-0.0033},{"p":"M541","X":4000,"Y":541,"Z":-0.0095},{"p":"M564","X":3020,"Y":564,"Z":0.012},{"p":"M564","X":3060,"Y":564,"Z":0.001},{"p":"M564","X":3700,"Y":564,"Z":-0.0035},{"p":"M564","X":4000,"Y":564,"Z":-0.01},{"p":"M590","X":3020,"Y":590,"Z":0.0115},{"p":"M590","X":3060,"Y":590,"Z":0.001},{"p":"M590","X":3700,"Y":590,"Z":-0.0037},{"p":"M590","X":4000,"Y":590,"Z":-0.0105},{"p":"M614","X":3020,"Y":614,"Z":0.0112},{"p":"M614","X":3060,"Y":614,"Z":0.001},{"p":"M614","X":3700,"Y":614,"Z":-0.0038},{"p":"M614","X":4000,"Y":614,"Z":-0.011},{"p":"M634","X":3020,"Y":634,"Z":0.0112},{"p":"M634","X":3060,"Y":634,"Z":0.001},{"p":"M634","X":3700,"Y":634,"Z":-0.004},{"p":"M634","X":4000,"Y":634,"Z":-0.0115},{"p":"M658","X":3020,"Y":658,"Z":0.0112},{"p":"M658","X":3060,"Y":658,"Z":0.001},{"p":"M658","X":3700,"Y":658,"Z":-0.0042},{"p":"M658","X":4000,"Y":658,"Z":-0.012},{"p":"M682","X":3020,"Y":682,"Z":0.0113},{"p":"M682","X":3060,"Y":682,"Z":0.001},{"p":"M682","X":3700,"Y":682,"Z":-0.0042},{"p":"M682","X":4000,"Y":682,"Z":-0.012},{"p":"M705","X":3020,"Y":705,"Z":0.0116},{"p":"M705","X":3060,"Y":705,"Z":0.001},{"p":"M705","X":3700,"Y":705,"Z":-0.0037},{"p":"M705","X":4000,"Y":705,"Z":-0.0105},{"p":"M729","X":3020,"Y":729,"Z":0.012},{"p":"M729","X":3060,"Y":729,"Z":0.001},{"p":"M729","X":3700,"Y":729,"Z":-0.0037},{"p":"M729","X":4000,"Y":729,"Z":-0.0105},{"p":"M754","X":3020,"Y":754,"Z":0.0123},{"p":"M754","X":3060,"Y":754,"Z":0.001},{"p":"M754","X":3700,"Y":754,"Z":-0.0037},{"p":"M754","X":4000,"Y":754,"Z":-0.0105},{"p":"M780","X":3020,"Y":780,"Z":0.0127},{"p":"M780","X":3060,"Y":780,"Z":0.001},{"p":"M780","X":3700,"Y":780,"Z":-0.004},{"p":"M780","X":4000,"Y":780,"Z":-0.0115},
{"p":"Mx3080","X":3080,"Y":39,"Z":-0.001},{"p":"Mx3080","X":3080,"Y":800,"Z":0},{"p":"Mx3210","X":3210,"Y":39,"Z":-0.001},{"p":"Mx3210","X":3210,"Y":800,"Z":-0.0007},{"p":"Mx3340","X":3340,"Y":39,"Z":-0.001},{"p":"Mx3340","X":3340,"Y":800,"Z":-0.0007},{"p":"Mx3470","X":3470,"Y":39,"Z":-0.0012},{"p":"Mx3470","X":3470,"Y":800,"Z":-0.0017},{"p":"Mx3600","X":3600,"Y":39,"Z":-0.0012},{"p":"Mx3600","X":3600,"Y":800,"Z":-0.002},{"p":"Mx3730","X":3730,"Y":39,"Z":-0.0015},{"p":"Mx3730","X":3730,"Y":800,"Z":-0.004},{"p":"Mx3860","X":3860,"Y":39,"Z":-0.0015},{"p":"Mx3860","X":3860,"Y":800,"Z":-0.006},{"p":"Mx3990","X":3990,"Y":39,"Z":-0.0017},{"p":"Mx3990","X":3990,"Y":800,"Z":-0.0085},
{"p":"s","X":3170,"Y":332,"Z":0.0005},{"p":"s","X":3170,"Y":337,"Z":0.007},{"p":"s","X":3170,"Y":343,"Z":0.012},{"p":"s","X":3170,"Y":353,"Z":0.017},{"p":"s","X":3170,"Y":360,"Z":0.022},{"p":"s","X":3170,"Y":367,"Z":0.027},{"p":"s","X":3170,"Y":372,"Z":0.032},{"p":"s","X":3170,"Y":375,"Z":0.037},{"p":"s","X":3170,"Y":378,"Z":0.042},{"p":"s","X":3170,"Y":381,"Z":0.047},{"p":"s","X":3170,"Y":384,"Z":0.052},{"p":"s","X":3170,"Y":386,"Z":0.057},{"p":"s","X":3170,"Y":388,"Z":0.062},{"p":"s","X":3170,"Y":390.5,"Z":0.067},{"p":"s","X":3170,"Y":393,"Z":0.072},{"p":"s","X":3170,"Y":394.7,"Z":0.077},{"p":"s","X":3170,"Y":396.4,"Z":0.082},{"p":"s","X":3170,"Y":398.5,"Z":0.086},{"p":"s","X":3170,"Y":401.5,"Z":0.09},{"p":"s","X":3170,"Y":403.7,"Z":0.093},{"p":"s","X":3170,"Y":404.3,"Z":0.093},{"p":"s","X":3170,"Y":406.5,"Z":0.09},{"p":"s","X":3170,"Y":409.5,"Z":0.086},{"p":"s","X":3170,"Y":411.6,"Z":0.082},{"p":"s","X":3170,"Y":413.3,"Z":0.077},{"p":"s","X":3170,"Y":415,"Z":0.072},{"p":"s","X":3170,"Y":417.5,"Z":0.067},{"p":"s","X":3170,"Y":420,"Z":0.062},{"p":"s","X":3170,"Y":422,"Z":0.057},{"p":"s","X":3170,"Y":424,"Z":0.052},{"p":"s","X":3170,"Y":427,"Z":0.047},{"p":"s","X":3170,"Y":430,"Z":0.042},{"p":"s","X":3170,"Y":433,"Z":0.037},{"p":"s","X":3170,"Y":436,"Z":0.032},{"p":"s","X":3170,"Y":441,"Z":0.027},{"p":"s","X":3170,"Y":448,"Z":0.022},{"p":"s","X":3170,"Y":455,"Z":0.017},{"p":"s","X":3170,"Y":465,"Z":0.012},{"p":"s","X":3170,"Y":471,"Z":0.007},{"p":"s","X":3170,"Y":476,"Z":0.0005},
{"p":"E1","X":3170,"Y":333,"Z":0.0059},{"p":"E1","X":3170,"Y":470,"Z":0.0059},{"p":"E2","X":3170,"Y":353,"Z":0.0181},{"p":"E2","X":3170,"Y":454,"Z":0.0181},{"p":"E3","X":3170,"Y":370,"Z":0.0303},{"p":"E3","X":3170,"Y":438,"Z":0.0303},{"p":"E4","X":3170,"Y":378,"Z":0.0425},{"p":"E4","X":3170,"Y":430,"Z":0.0425},{"p":"E5","X":3170,"Y":385,"Z":0.0547},{"p":"E5","X":3170,"Y":423,"Z":0.0547},{"p":"E6","X":3170,"Y":391,"Z":0.0669},{"p":"E6","X":3170,"Y":417,"Z":0.0669},{"p":"E7","X":3170,"Y":395,"Z":0.0791},{"p":"E7","X":3170,"Y":413,"Z":0.0791},
{"p":"T","Z":0.1035,"t":"0. 1035"},{"p":"T","Z":0.0913,"t":"0. 09130"},{"p":"T","Z":0.0791,"t":"0. 07910"},{"p":"T","Z":0.0669,"t":"0. 06690"},{"p":"T","Z":0.0547,"t":"0. 05470"},{"p":"T","Z":0.0425,"t":"0. 04250"},{"p":"T","Z":0.0303,"t":"0. 03030"},{"p":"T","Z":0.0181,"t":"0. 01810"},{"p":"T","Z":0.0059,"t":"0. 005900"},{"p":"T","Z":-0.0063,"t":"−0. 006300"},{"p":"T","Z":-0.0185,"t":"−0. 01850"},
{"p":"L","Z":0.1035},{"p":"L","Z":0.1011},{"p":"L","Z":0.0987},{"p":"L","Z":0.0963},{"p":"L","Z":0.0939},{"p":"L","Z":0.0915},{"p":"L","Z":0.0891},{"p":"L","Z":0.0867},{"p":"L","Z":0.0843},{"p":"L","Z":0.0819},{"p":"L","Z":0.0795},{"p":"L","Z":0.0771},{"p":"L","Z":0.0747},{"p":"L","Z":0.0723},{"p":"L","Z":0.0699},{"p":"L","Z":0.0675},{"p":"L","Z":0.0651},{"p":"L","Z":0.0627},{"p":"L","Z":0.0603},{"p":"L","Z":0.0579},{"p":"L","Z":0.0555},{"p":"L","Z":0.0531},{"p":"L","Z":0.0507},{"p":"L","Z":0.0483},{"p":"L","Z":0.0459},{"p":"L","Z":0.0435},{"p":"L","Z":0.0411},{"p":"L","Z":0.0387},{"p":"L","Z":0.0363},{"p":"L","Z":0.0339},{"p":"L","Z":0.0315},{"p":"L","Z":0.0291},{"p":"L","Z":0.0267},{"p":"L","Z":0.0243},{"p":"L","Z":0.0219},{"p":"L","Z":0.0195},{"p":"L","Z":0.0171},{"p":"L","Z":0.0147},{"p":"L","Z":0.0123},{"p":"L","Z":0.0099},{"p":"L","Z":0.0075},{"p":"L","Z":0.0051},{"p":"L","Z":0.0027},{"p":"L","Z":0.0003},{"p":"L","Z":-0.0021},{"p":"L","Z":-0.0045},{"p":"L","Z":-0.0069},{"p":"L","Z":-0.0093},{"p":"L","Z":-0.0117},{"p":"L","Z":-0.0141},{"p":"L","Z":-0.0165}
]},
"transform":[
{"window":[{"op":"row_number","as":"o"}]},
{"calculate":"substring(datum.p,0,1)","as":"k"},
{"calculate":"(datum.X-350)/3650","as":"u"},
{"calculate":"(datum.Y-39)/761","as":"v"},
{"calculate":"(datum.Z+0.02)/0.1306","as":"w0"},
{"calculate":"datum.w0-0.05*datum.w0*(1-datum.w0)","as":"w"},
{"calculate":"1-0.19479*datum.u+0.20747*datum.v","as":"W0"},
{"calculate":"1-0.1805*datum.u+0.18*datum.v","as":"W1"},
{"calculate":"(339.65*datum.u+533.08*datum.v+224)/datum.W0","as":"fx"},
{"calculate":"(-0.65*datum.u-15.35*datum.v+735)/datum.W0","as":"fy"},
{"calculate":"(370.5*datum.u+541.9*datum.v+198)/datum.W1","as":"tx"},
{"calculate":"(50.4*datum.u-59.46*datum.v+122)/datum.W1","as":"ty"},
{"calculate":"datum.fx+datum.w*(datum.tx-datum.fx)","as":"px"},
{"calculate":"datum.fy+datum.w*(datum.ty-datum.fy)","as":"py"},
{"calculate":"95+(0.1035-datum.Z)*4672","as":"ly"},
{"calculate":"95+(0.1035-datum.Z+0.0024)*4672","as":"ly2"}
],
"encoding":{"x":{"field":"px","type":"quantitative","axis":null,"scale":{"domain":[0,1568],"range":[0,1859],"nice":false,"zero":false}},"y":{"field":"py","type":"quantitative","axis":null,"scale":{"domain":[1024,0],"nice":false,"zero":false}}},
"layer":[
{"transform":[{"filter":"datum.k=='P'"},{"calculate":"1336.9","as":"ax"},{"calculate":"0","as":"ay"}],"mark":{"type":"rect","fill":"#c0c0c0"},"encoding":{"x":{"field":"ax"},"x2":{"datum":1568},"y":{"field":"ay"},"y2":{"datum":1024}}},
{"transform":[{"filter":"datum.k=='P'"},{"calculate":"0","as":"ax"},{"calculate":"1022.8","as":"ay"}],"mark":{"type":"rect","fill":"#666666"},"encoding":{"x":{"field":"ax"},"x2":{"datum":1568},"y":{"field":"ay"},"y2":{"datum":1024}}},
{"transform":[{"filter":"datum.k=='P'"},{"calculate":"0","as":"ax"},{"calculate":"0","as":"ay"}],"mark":{"type":"rect","fill":"#ececec"},"encoding":{"x":{"field":"ax"},"x2":{"datum":1568},"y":{"field":"ay"},"y2":{"datum":0.8}}},
{"transform":[{"filter":"datum.k=='g'"}],"mark":{"type":"line","stroke":"#c4c4c4","strokeWidth":1.2},"encoding":{"order":{"field":"o"},"detail":{"field":"p"}}},
{"transform":[{"filter":"datum.k=='k'"}],"mark":{"type":"line","stroke":"#444444","strokeWidth":1},"encoding":{"order":{"field":"o"},"detail":{"field":"p"}}},
{"transform":[{"filter":"datum.k=='t'"}],"mark":{"type":"line","stroke":"#000000","strokeWidth":2.8},"encoding":{"order":{"field":"o"},"detail":{"field":"p"}}},
{"transform":[{"filter":"datum.k=='a'"}],"mark":{"type":"line","interpolate":"linear-closed","strokeWidth":0.6},"encoding":{"order":{"field":"o"},"detail":{"field":"p"},"fill":{"field":"c","type":"quantitative","scale":{"domain":[-0.0185,-0.0125,-0.0068,-0.004,0.0006,0.0079,0.0143,0.0188,0.0213,0.033,0.0425,0.0498,0.0621,0.0791,0.0913,0.1035],"range":["#680070","#8000c0","#6000ff","#4000ff","#0000ff","#00a0ff","#00ffff","#00ff80","#00ff00","#a0ff00","#ffff00","#ff9800","#ff0000","#ff0000","#b00000","#600000"]}},"stroke":{"field":"c","type":"quantitative","scale":{"domain":[-0.0185,-0.0125,-0.0068,-0.004,0.0006,0.0079,0.0143,0.0188,0.0213,0.033,0.0425,0.0498,0.0621,0.0791,0.0913,0.1035],"range":["#680070","#8000c0","#6000ff","#4000ff","#0000ff","#00a0ff","#00ffff","#00ff80","#00ff00","#a0ff00","#ffff00","#ff9800","#ff0000","#ff0000","#b00000","#600000"]}}}},
{"transform":[{"filter":"datum.k=='h'"}],"mark":{"type":"line","interpolate":"linear-closed","stroke":null,"fill":{"gradient":"linear","x1":0.47,"y1":0.74,"x2":0,"y2":0,"stops":[{"offset":0,"color":"#0000ff"},{"offset":0.2,"color":"#0070ff"},{"offset":0.4,"color":"#00a8ff"},{"offset":0.55,"color":"#00e0ff"},{"offset":1,"color":"#00ff80"}]}},"encoding":{"order":{"field":"o"}}},
{"transform":[{"filter":"datum.k=='f'||datum.k=='o'"}],"mark":{"type":"line","interpolate":"linear-closed","strokeWidth":0.6},"encoding":{"order":{"field":"o"},"detail":{"field":"p"},"fill":{"field":"c","type":"quantitative"},"stroke":{"field":"c","type":"quantitative"}}},
{"transform":[{"filter":"datum.k=='q'"}],"mark":{"type":"line","interpolate":"linear-closed","stroke":null,"fill":{"gradient":"linear","x1":0,"y1":1,"x2":0,"y2":0,"stops":[{"offset":0,"color":"#0020ff"},{"offset":0.4,"color":"#0070ff"},{"offset":0.75,"color":"#00c0ff"},{"offset":1,"color":"#00ffff"}]}},"encoding":{"order":{"field":"o"}}},
{"transform":[{"filter":"datum.k=='m'"}],"mark":{"type":"line","stroke":"#8a8a9c","strokeWidth":0.9,"opacity":0.8},"encoding":{"order":{"field":"o"},"detail":{"field":"p"}}},
{"transform":[{"filter":"datum.k=='c'"}],"mark":{"type":"line","stroke":"#505050","strokeWidth":1},"encoding":{"order":{"field":"o"},"detail":{"field":"p"}}},
{"transform":[{"filter":"datum.k=='w'"}],"mark":{"type":"line","interpolate":"linear-closed","stroke":null,"fill":{"gradient":"linear","x1":0.2551,"y1":0.9115,"x2":0,"y2":0,"stops":[{"offset":0,"color":"#0000ff"},{"offset":0.02,"color":"#0000ff"},{"offset":0.092,"color":"#00a0ff"},{"offset":0.167,"color":"#00ffff"},{"offset":0.219,"color":"#00ff80"},{"offset":0.248,"color":"#00ff00"},{"offset":0.385,"color":"#a0ff00"},{"offset":0.496,"color":"#ffff00"},{"offset":0.581,"color":"#ff9800"},{"offset":0.724,"color":"#ff0000"},{"offset":1,"color":"#ff0000"}]}},"encoding":{"order":{"field":"o"}}},
{"transform":[{"filter":"datum.k=='W'"}],"mark":{"type":"line","interpolate":"linear-closed","stroke":null,"fill":{"gradient":"linear","x1":0.1778,"y1":0.9435,"x2":0,"y2":0,"stops":[{"offset":0,"color":"#ff0000"},{"offset":0.397,"color":"#ff0000"},{"offset":0.524,"color":"#dc0000"},{"offset":0.66,"color":"#b00000"},{"offset":0.79,"color":"#880000"},{"offset":0.923,"color":"#620000"},{"offset":1,"color":"#600000"}]}},"encoding":{"order":{"field":"o"}}},
{"transform":[{"filter":"datum.k=='n'"}],"mark":{"type":"line","stroke":"#a0a0a8","strokeWidth":1,"opacity":0.9},"encoding":{"order":{"field":"o"},"detail":{"field":"p"}}},
{"transform":[{"filter":"datum.k=='e'"}],"mark":{"type":"line","stroke":"#555555","strokeWidth":1},"encoding":{"order":{"field":"o"},"detail":{"field":"p"}}},
{"transform":[{"filter":"datum.k=='r'"}],"mark":{"type":"line","interpolate":"linear-closed","stroke":null,"fill":{"gradient":"linear","x1":0.398,"y1":0.756,"x2":0,"y2":0,"stops":[{"offset":0,"color":"#0000ff"},{"offset":0.19,"color":"#0080ff"},{"offset":0.43,"color":"#00b8ff"},{"offset":0.57,"color":"#00e8ff"},{"offset":1,"color":"#00ff00"}]}},"encoding":{"order":{"field":"o"}}},
{"transform":[{"filter":"datum.k=='M'"}],"mark":{"type":"line","stroke":"#8a8a9c","strokeWidth":0.9,"opacity":0.8},"encoding":{"order":{"field":"o"},"detail":{"field":"p"}}},
{"transform":[{"filter":"datum.k=='D'"}],"mark":{"type":"line","stroke":"#505050","strokeWidth":1},"encoding":{"order":{"field":"o"},"detail":{"field":"p"}}},
{"transform":[{"filter":"datum.k=='s'"}],"mark":{"type":"line","interpolate":"linear-closed","stroke":null,"fill":{"gradient":"linear","x1":0.06,"y1":0.9938,"x2":0,"y2":0,"stops":[{"offset":0,"color":"#0000ff"},{"offset":0.02,"color":"#0000ff"},{"offset":0.077,"color":"#00a0ff"},{"offset":0.144,"color":"#00ffff"},{"offset":0.19,"color":"#00ff80"},{"offset":0.217,"color":"#00ff00"},{"offset":0.339,"color":"#a0ff00"},{"offset":0.4375,"color":"#ffff00"},{"offset":0.5135,"color":"#ff9800"},{"offset":0.642,"color":"#ff0000"},{"offset":0.819,"color":"#ff0000"},{"offset":0.946,"color":"#b00000"},{"offset":1,"color":"#900000"}]}},"encoding":{"order":{"field":"o"}}},
{"transform":[{"filter":"datum.k=='E'"}],"mark":{"type":"line","stroke":"#555555","strokeWidth":1},"encoding":{"order":{"field":"o"},"detail":{"field":"p"}}},
{"transform":[{"filter":"datum.k=='V'"},{"calculate":"658","as":"ax"},{"calculate":"494","as":"ay"}],"mark":{"type":"text","font":"Noto Sans CJK SC","fontSize":113,"fill":"#e0e0e0","align":"center","baseline":"middle"},"encoding":{"x":{"field":"ax"},"y":{"field":"ay"},"text":{"field":"t"}}},
{"transform":[{"filter":"datum.k=='z'"}],"mark":{"type":"text","font":"Liberation Serif","fontSize":30,"angle":345,"dy":18,"fill":"#000000","align":"center","baseline":"middle"},"encoding":{"text":{"field":"t"}}},
{"transform":[{"filter":"datum.k=='x'"}],"mark":{"type":"text","font":"Liberation Mono","fontSize":23,"angle":343,"fill":"#222222","align":"center","baseline":"middle"},"encoding":{"text":{"field":"t"}}},
{"transform":[{"filter":"datum.k=='y'"}],"mark":{"type":"text","font":"Liberation Mono","fontSize":23,"angle":16,"fill":"#222222","align":"center","baseline":"middle"},"encoding":{"text":{"field":"t"}}},
{"transform":[{"filter":"datum.p=='uz'"}],"mark":{"type":"text","font":"Liberation Mono","fontSize":32,"angle":88,"fill":"#222222","align":"center","baseline":"middle"},"encoding":{"text":{"field":"t"}}},
{"transform":[{"filter":"datum.p=='ux'"}],"mark":{"type":"text","font":"Liberation Mono","fontSize":24,"angle":30,"fill":"#222222","align":"center","baseline":"middle"},"encoding":{"text":{"field":"t"}}},
{"transform":[{"filter":"datum.p=='uy'"}],"mark":{"type":"text","font":"Liberation Mono","fontSize":26,"angle":338,"fill":"#222222","align":"center","baseline":"middle"},"encoding":{"text":{"field":"t"}}},
{"transform":[{"filter":"datum.k=='L'"},{"calculate":"1154","as":"ax"}],"mark":{"type":"rect"},"encoding":{"x":{"field":"ax"},"x2":{"datum":1203.6},"y":{"field":"ly"},"y2":{"field":"ly2"},"fill":{"field":"Z","type":"quantitative"}}},
{"transform":[{"filter":"datum.k=='K'"},{"calculate":"1154","as":"ax"},{"calculate":"665","as":"ay"}],"mark":{"type":"rect","fill":"#000000"},"encoding":{"x":{"field":"ax"},"x2":{"datum":1203.6},"y":{"field":"ay"},"y2":{"datum":671}}},
{"transform":[{"filter":"datum.k=='K'"},{"calculate":"1154","as":"ax"},{"calculate":"88.6","as":"ay"}],"mark":{"type":"rect","fillOpacity":0,"stroke":"#000000","strokeWidth":3},"encoding":{"x":{"field":"ax"},"x2":{"datum":1203.6},"y":{"field":"ay"},"y2":{"datum":671}}},
{"transform":[{"filter":"datum.k=='T'"},{"calculate":"1203.6","as":"ax"}],"mark":{"type":"rule","stroke":"#000000","strokeWidth":2.5},"encoding":{"x":{"field":"ax"},"x2":{"datum":1217},"y":{"field":"ly"}}},
{"transform":[{"filter":"datum.k=='T'"},{"calculate":"1225","as":"ax"}],"mark":{"type":"text","font":"Liberation Mono","fontSize":20,"fill":"#222222","align":"left","baseline":"middle"},"encoding":{"x":{"field":"ax"},"y":{"field":"ly"},"text":{"field":"t"}}},
{"transform":[{"filter":"datum.k=='U'"},{"calculate":"1112","as":"ax"},{"calculate":"53","as":"ay"}],"mark":{"type":"text","font":"Liberation Mono","fontSize":37,"fill":"#222222","align":"left","baseline":"middle"},"encoding":{"x":{"field":"ax"},"y":{"field":"ay"},"text":{"field":"t"}}},
{"transform":[{"filter":"datum.k=='B'"},{"calculate":"0.5","as":"ax"},{"calculate":"0.5","as":"ay"}],"mark":{"type":"rect","fill":"#ee1111","stroke":"#aaaaaa","strokeWidth":1},"encoding":{"x":{"field":"ax"},"x2":{"datum":16.5},"y":{"field":"ay"},"y2":{"datum":16.5}}},
{"transform":[{"filter":"datum.k=='B'"},{"calculate":"8.5","as":"ax"},{"calculate":"8.7","as":"ay"}],"mark":{"type":"text","font":"Liberation Sans","fontWeight":"bold","fontSize":12,"fill":"#ffffff","align":"center","baseline":"middle"},"encoding":{"x":{"field":"ax"},"y":{"field":"ay"},"text":{"field":"t"}}}
]}
